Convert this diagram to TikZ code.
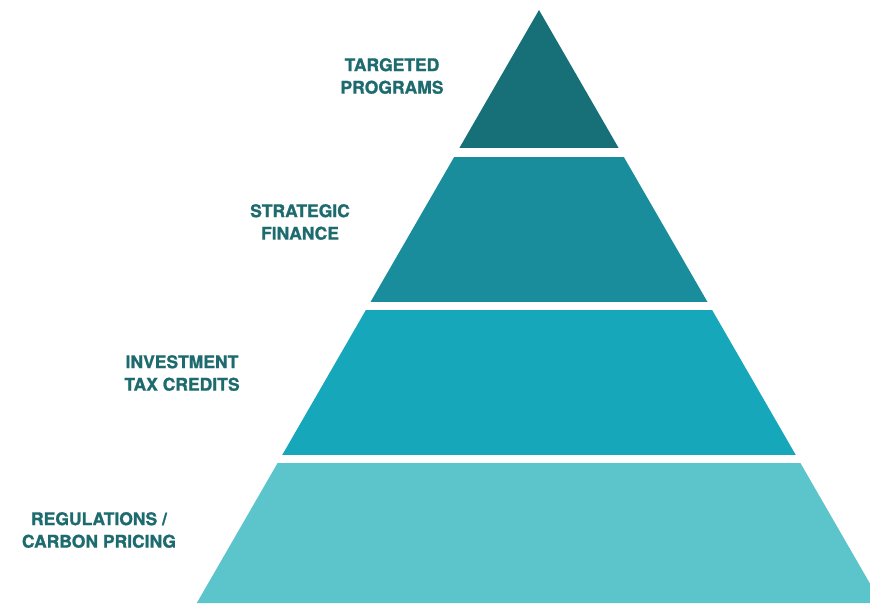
\documentclass[tikz,border=0pt]{standalone}
\usepackage{fontspec}
\setmainfont{TeX Gyre Heros}
\newfontfamily\labelfont[BoldFeatures={FakeBold=1.2}]{TeX Gyre Heros}
\usetikzlibrary{positioning}
\definecolor{tealtext}{HTML}{1D6B6E}
\definecolor{tierA}{HTML}{176F78}
\definecolor{tierB}{HTML}{1A8D9C}
\definecolor{tierC}{HTML}{17A7BA}
\definecolor{tierD}{HTML}{5CC5CB}
\tikzset{x=1pt, y=-1pt,
tierlabel/.style={ % text next to each tier
text=tealtext,
font=\labelfont\fontsize{17.5}{22.5}\selectfont\bfseries,
align=center,
inner sep=0pt}}

\begin{document}
\begin{tikzpicture}
\useasboundingbox (0,0) rectangle (870,603);
\clip (0,0) rectangle (870,603);
% pyramid outline, cut into tiers
\coordinate (apex) at (539,10);
\coordinate (baseL) at (196.8,603);
\coordinate (baseR) at (881.2,603);
\begin{scope}
\clip (apex) -- (baseL) -- (baseR) -- cycle;
\fill[tierA] (150,0) rectangle (900,148);
\fill[tierB] (150,157) rectangle (900,302);
\fill[tierC] (150,310) rectangle (900,455);
\fill[tierD] (150,463) rectangle (900,610);
\end{scope}
% labels
\node[tierlabel] (targeted) at (392,76) {TARGETED\\PROGRAMS};
\node[tierlabel] (strategic) at (300,222) {STRATEGIC\\FINANCE};
\node[tierlabel] (investment) at (182,373) {INVESTMENT\\TAX CREDITS};
\node[tierlabel] (regulations) at (99,530) {REGULATIONS /\\CARBON PRICING};
\end{tikzpicture}
\end{document}
